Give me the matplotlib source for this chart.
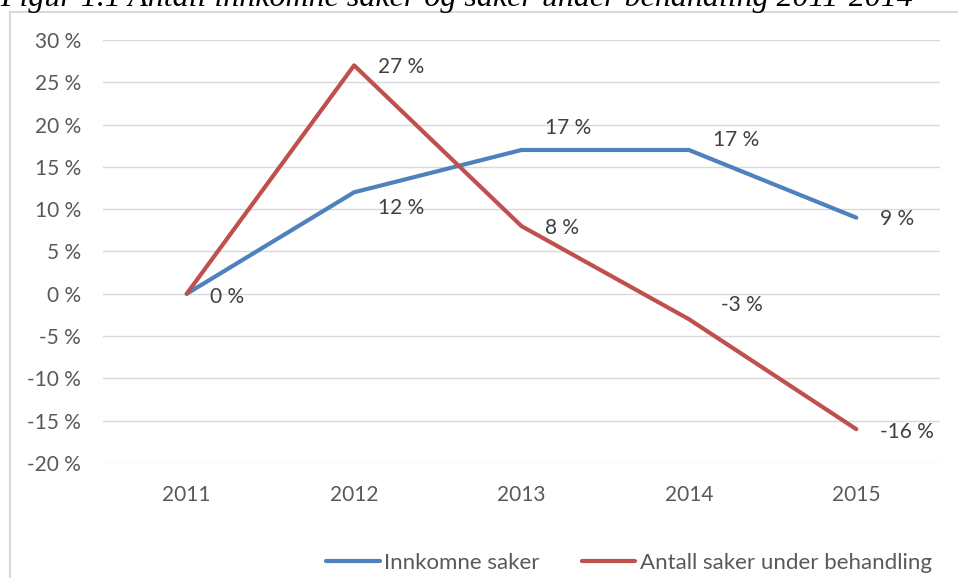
import matplotlib.pyplot as plt
from matplotlib.patches import Rectangle

# DATA
years = ['2011', '2012', '2013', '2014', '2015']
innkomne = [0, 12, 17, 17, 9]
behandling = [0, 27, 8, -3, -16]
y_ticks = [-20, -15, -10, -5, 0, 5, 10, 15, 20, 25, 30]

blue = '#4F81BD'
red = '#C0504D'
grey = '#595959'

plt.rcParams['font.family'] = ['Lato', 'DejaVu Sans']

fig = plt.figure(figsize=(9.58, 5.78), dpi=100)
W, H = 958, 578

# chart frame (cut by the picture edges)
fig.patches.append(Rectangle((10 / W, -0.1), 1.2, 1.1 - 12 / H,
                             transform=fig.transFigure, fill=False,
                             edgecolor='#D9D9D9', linewidth=1.5))

# caption, only the lower half visible in the original
fig.text(0, 1 - 6 / H, 'Figur 1.1 Antall innkomne saker og saker under behandling 2011-2014',
         family='Liberation Serif', style='italic', fontsize=23, color='black',
         ha='left', va='baseline')

ax = fig.add_axes([103 / W, 1 - 463 / H, 837 / W, 423 / H])
x = range(len(years))
ax.plot(x, innkomne, color=blue, lw=3, label='Innkomne saker', solid_capstyle='round', zorder=3)
ax.plot(x, behandling, color=red, lw=3, label='Antall saker under behandling', solid_capstyle='round', zorder=3)

ax.set_xlim(-0.5, len(years) - 0.5)
ax.set_ylim(-20, 30)
ax.set_yticks(y_ticks)
ax.set_yticklabels([f'{v} %' for v in y_ticks])
ax.set_xticks(list(x))
ax.set_xticklabels(years)
ax.tick_params(length=0, labelsize=15, colors=grey)
ax.tick_params(axis='y', pad=16)
ax.tick_params(axis='x', pad=16)
ax.grid(axis='y', color='#D9D9D9', lw=1)
ax.set_axisbelow(True)
for s in ax.spines.values():
    s.set_visible(False)

# data labels (offsets in points)
lab_col = '#404040'
blue_off = [(17, -2), (17, -11), (17, 16), (17, 7), (17, -1)]
red_off = [(0, 0), (17, -1), (17, -1), (23, 10), (17, -2)]
for i, v in enumerate(innkomne):
    dx, dy = blue_off[i]
    ax.annotate(f'{v} %', (i, v), xytext=(dx, dy), textcoords='offset points',
                ha='left', va='center', fontsize=15, color=lab_col)
for i, v in enumerate(behandling):
    if i == 0:
        continue
    dx, dy = red_off[i]
    ax.annotate(f'{v} %', (i, v), xytext=(dx, dy), textcoords='offset points',
                ha='left', va='center', fontsize=15, color=lab_col)

leg = fig.legend(loc='center', bbox_to_anchor=(629 / W, 1 - 563 / H), ncol=2, frameon=False,
                 fontsize=16, handlelength=2.4, handletextpad=0.2, columnspacing=1.9)
for t in leg.get_texts():
    t.set_color(grey)

fig.savefig('out.png', dpi=100)
